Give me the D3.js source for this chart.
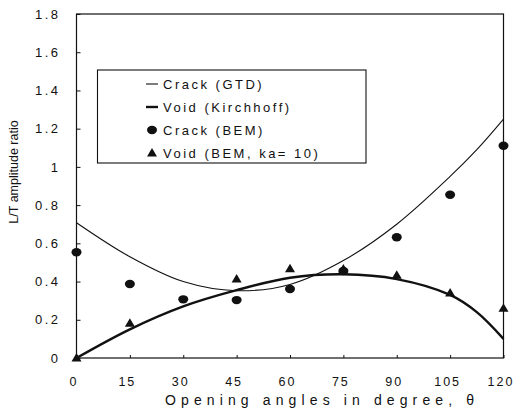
<!DOCTYPE html>
<html>
<head>
<meta charset="utf-8">
<script src="https://cdn.jsdelivr.net/npm/d3@7"></script>
<style>
  html, body { margin: 0; padding: 0; background: #fff; }
  svg { display: block; font-family: "Liberation Sans", Arial, sans-serif; }
</style>
</head>
<body>
<svg id="chart" width="514" height="409"></svg>
<script>
// ---- data ----
const angles = [0, 15, 30, 45, 60, 75, 90, 105, 120];
const curveAngles = [0, 15, 30, 45, 60, 75, 90, 105, 112.5, 120];
const crackGTD = [0.708, 0.53, 0.40, 0.352, 0.385, 0.51, 0.70, 0.95, 1.09, 1.25];
const voidKirchhoff = [0, 0.15, 0.27, 0.355, 0.42, 0.438, 0.413, 0.33, 0.24, 0.10];
const crackBEM = [0.553, 0.387, 0.307, 0.303, 0.361, 0.455, 0.632, 0.854, 1.111];
const voidBEM = [0, 0.181, null, 0.413, 0.466, 0.465, 0.433, 0.339, 0.26];
const xTicks = [0, 15, 30, 45, 60, 75, 90, 105, 120];
const yTicks = [0, 0.2, 0.4, 0.6, 0.8, 1, 1.2, 1.4, 1.6, 1.8];
const yTickLabels = ["0", "0.2", "0.4", "0.6", "0.8", "1", "1.2", "1.4", "1.6", "1.8"];
const legendLabels = ["Crack (GTD)", "Void (Kirchhoff)", "Crack (BEM)", "Void (BEM, ka= 10)"];
const xTitle = "Opening angles in degree, \u03B8";
const yTitle = "L/T amplitude ratio";

// ---- layout ----
const svg = d3.select("#chart");
const ink = "#111";
const x = d3.scaleLinear().domain([0, 120]).range([76.5, 503.5]);
const y = d3.scaleLinear().domain([0, 1.8]).range([358, 14]);

// frame
svg.append("rect")
  .attr("x", x(0)).attr("y", y(1.8))
  .attr("width", x(120) - x(0)).attr("height", y(0) - y(1.8))
  .attr("fill", "none").attr("stroke", ink).attr("stroke-width", 1.2);

// y axis
const yAxis = d3.axisLeft(y)
  .tickValues(yTicks)
  .tickFormat((d, i) => yTickLabels[i])
  .tickSizeInner(-4).tickSizeOuter(0).tickPadding(16);
const gy = svg.append("g").attr("transform", `translate(${x(0)},0)`).call(yAxis);
gy.select(".domain").remove();
gy.selectAll("line").attr("stroke", ink);
gy.selectAll("text").attr("fill", ink)
  .style("font-size", "13px").style("letter-spacing", "2.5px");

// x axis
const xAxis = d3.axisBottom(x)
  .tickValues(xTicks)
  .tickSizeInner(-3).tickSizeOuter(0).tickPadding(19);
const gx = svg.append("g").attr("transform", `translate(0,${y(0)})`).call(xAxis);
gx.select(".domain").remove();
gx.selectAll("line").attr("stroke", ink);
gx.selectAll("text").attr("fill", ink).attr("dx", "-3")
  .style("font-size", "12.5px").style("letter-spacing", "2px");

// axis titles
svg.append("text")
  .attr("x", 165).attr("y", 405)
  .attr("textLength", 309).attr("lengthAdjust", "spacing")
  .attr("fill", ink).style("font-size", "14px")
  .text(xTitle);
svg.append("text")
  .attr("transform", "translate(18,172) rotate(-90)")
  .attr("text-anchor", "middle")
  .attr("fill", ink).style("font-size", "12.5px")
  .text(yTitle);

// curves
const line = d3.line()
  .x((d, i) => x(curveAngles[i]))
  .y(d => y(d))
  .curve(d3.curveCatmullRom.alpha(0.5));
svg.append("path").attr("d", line(crackGTD))
  .attr("fill", "none").attr("stroke", ink).attr("stroke-width", 1.1);
svg.append("path").attr("d", line(voidKirchhoff))
  .attr("fill", "none").attr("stroke", ink).attr("stroke-width", 2.4);

// markers
function triPath(cx, cy) {
  const w = 10, h = 8.5;
  return `M${cx},${cy - h * 0.6}L${cx + w / 2},${cy + h * 0.4}L${cx - w / 2},${cy + h * 0.4}Z`;
}
svg.append("g").selectAll("ellipse")
  .data(crackBEM.map((v, i) => [angles[i], v]).filter(d => d[1] !== null))
  .join("ellipse")
  .attr("cx", d => x(d[0])).attr("cy", d => y(d[1]))
  .attr("rx", 5).attr("ry", 4.2).attr("fill", ink);
svg.append("g").selectAll("path")
  .data(voidBEM.map((v, i) => [angles[i], v]).filter(d => d[1] !== null))
  .join("path")
  .attr("d", d => triPath(x(d[0]), y(d[1])))
  .attr("fill", ink);

// legend
const lg = svg.append("g");
lg.append("rect")
  .attr("x", 97.5).attr("y", 70).attr("width", 268.5).attr("height", 93)
  .attr("fill", "#fff").attr("stroke", ink).attr("stroke-width", 1.1);
const rowY = [84, 107, 130, 153];
lg.append("line").attr("x1", 146).attr("x2", 158).attr("y1", rowY[0]).attr("y2", rowY[0])
  .attr("stroke", ink).attr("stroke-width", 1.1);
lg.append("line").attr("x1", 146).attr("x2", 158).attr("y1", rowY[1]).attr("y2", rowY[1])
  .attr("stroke", ink).attr("stroke-width", 2.4);
lg.append("ellipse").attr("cx", 152).attr("cy", rowY[2]).attr("rx", 5).attr("ry", 4.2).attr("fill", ink);
lg.append("path").attr("d", triPath(152, rowY[3])).attr("fill", ink);
lg.selectAll("text.lbl").data(legendLabels).join("text")
  .attr("class", "lbl")
  .attr("x", 163).attr("y", (d, i) => rowY[i]).attr("dy", "0.36em")
  .attr("fill", ink).style("font-size", "13px").style("letter-spacing", "2.5px")
  .text(d => d);
</script>
</body>
</html>
